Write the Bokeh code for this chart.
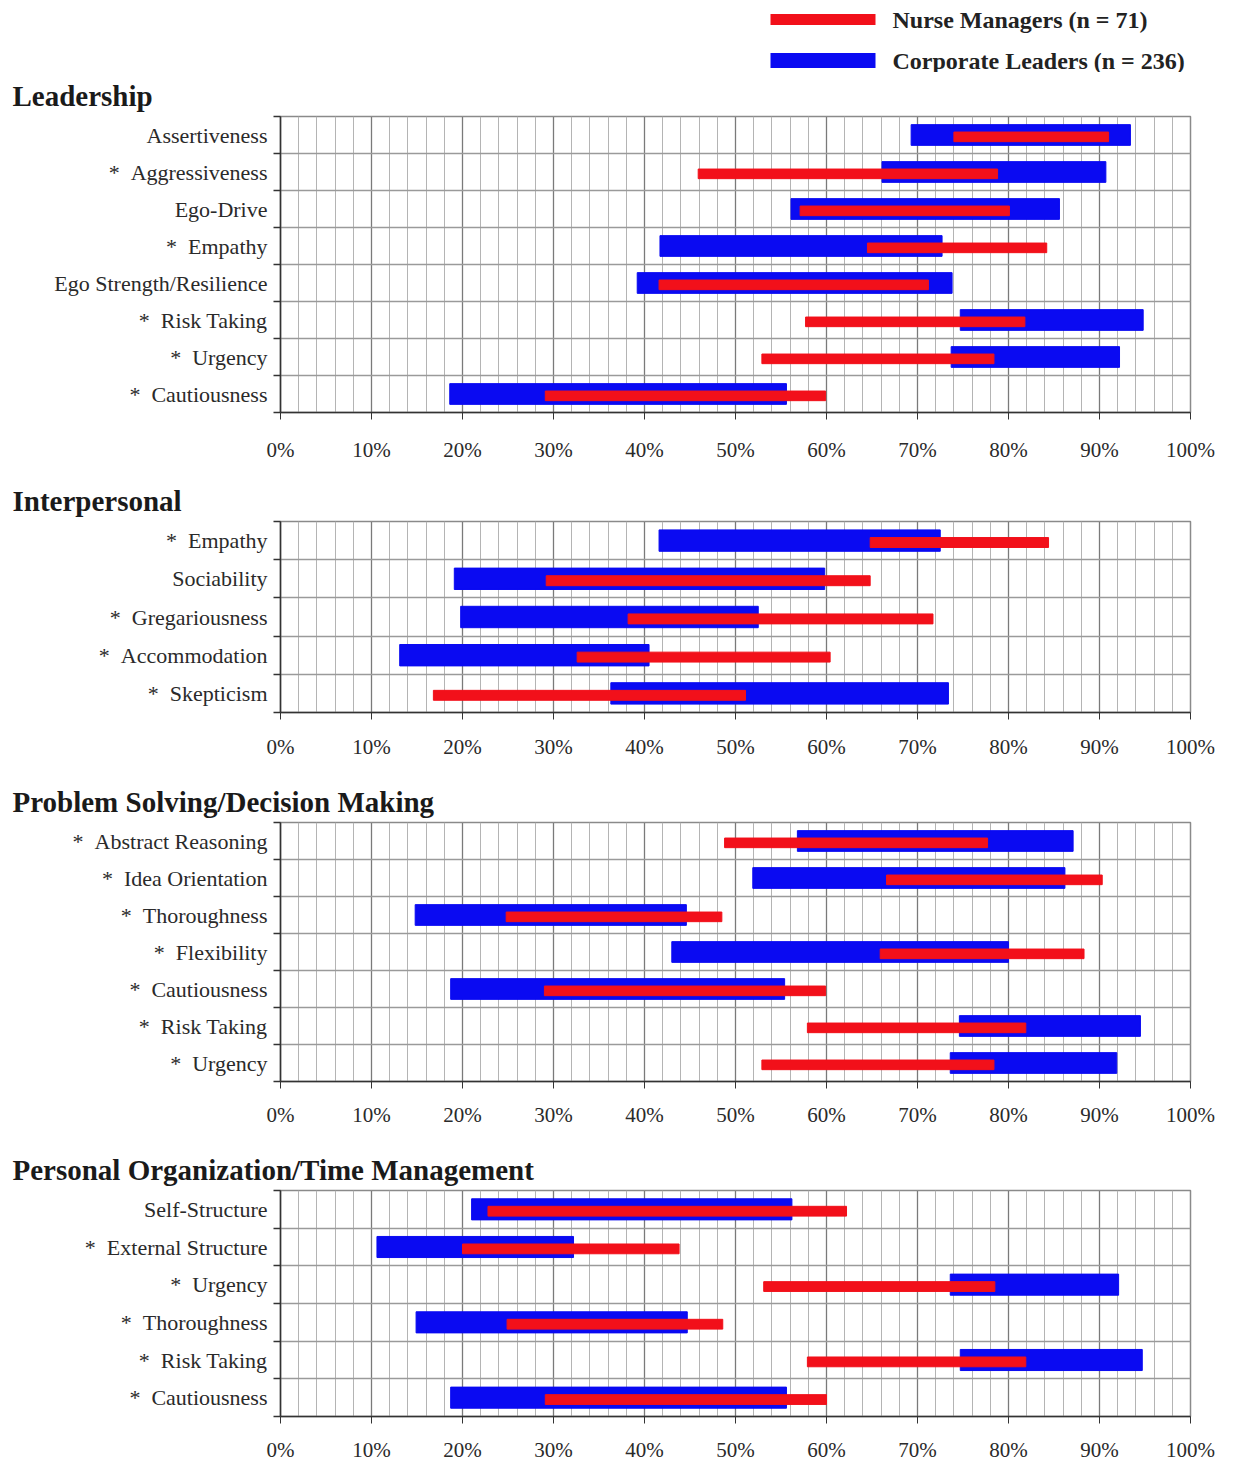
from bokeh.plotting import figure
from bokeh.layouts import column
from bokeh.models import FixedTicker, ColumnDataSource, Range1d
from bokeh.embed import file_html
from bokeh.resources import INLINE
from bokeh.core.properties import value

# ---------------- data ----------------
series_names = ["Nurse Managers (n = 71)", "Corporate Leaders (n = 236)"]
x_ticks = [0, 10, 20, 30, 40, 50, 60, 70, 80, 90, 100]
x_tick_labels = ["0%", "10%", "20%", "30%", "40%", "50%", "60%", "70%", "80%", "90%", "100%"]

leadership_traits = ["Assertiveness", "Aggressiveness", "Ego-Drive", "Empathy",
                     "Ego Strength/Resilience", "Risk Taking", "Urgency", "Cautiousness"]
leadership_flag = [False, True, False, True, False, True, True, True]
leadership_corp_lo = [69.3, 66.1, 56.1, 41.7, 39.2, 74.7, 73.7, 18.6]
leadership_corp_hi = [93.4, 90.7, 85.6, 72.7, 73.8, 94.8, 92.2, 55.6]
leadership_nurse_lo = [74.0, 45.9, 57.1, 64.5, 41.6, 57.7, 52.9, 29.1]
leadership_nurse_hi = [91.0, 78.8, 80.1, 84.2, 71.2, 81.8, 78.4, 59.9]

interpersonal_traits = ["Empathy", "Sociability", "Gregariousness", "Accommodation", "Skepticism"]
interpersonal_flag = [True, False, True, True, True]
interpersonal_corp_lo = [41.6, 19.1, 19.8, 13.1, 36.3]
interpersonal_corp_hi = [72.5, 59.8, 52.5, 40.5, 73.4]
interpersonal_nurse_lo = [64.8, 29.2, 38.2, 32.6, 16.8]
interpersonal_nurse_hi = [84.4, 64.8, 71.7, 60.4, 51.1]

problem_traits = ["Abstract Reasoning", "Idea Orientation", "Thoroughness", "Flexibility",
                  "Cautiousness", "Risk Taking", "Urgency"]
problem_flag = [True, True, True, True, True, True, True]
problem_corp_lo = [56.8, 51.9, 14.8, 43.0, 18.7, 74.6, 73.6]
problem_corp_hi = [87.1, 86.2, 44.6, 80.0, 55.4, 94.5, 91.9]
problem_nurse_lo = [48.8, 66.6, 24.8, 65.9, 29.0, 57.9, 52.9]
problem_nurse_hi = [77.7, 90.3, 48.5, 88.3, 59.9, 81.9, 78.4]

personal_traits = ["Self-Structure", "External Structure", "Urgency", "Thoroughness",
                   "Risk Taking", "Cautiousness"]
personal_flag = [False, True, True, True, True, True]
personal_corp_lo = [21.0, 10.6, 73.6, 14.9, 74.7, 18.7]
personal_corp_hi = [56.2, 32.2, 92.1, 44.7, 94.7, 55.6]
personal_nurse_lo = [22.8, 20.0, 53.1, 24.9, 57.9, 29.1]
personal_nurse_hi = [62.2, 43.8, 78.5, 48.6, 81.9, 60.0]

panel_titles = ["Leadership", "Interpersonal", "Problem Solving/Decision Making",
                "Personal Organization/Time Management"]

# ---------------- style ----------------
SERIF = "Liberation Serif"
BLUE = "#0a0af2"
RED = "#f2101a"
TEXT = "#2a2a2a"
LEFT = 280
FRAME_W = 910
RIGHT = 35
TOP = 44


def make_panel(title, traits, flags, c_lo, c_hi, n_lo, n_hi, frame_h, b_bot, x_standoff):
    n = len(traits)
    centers = [n - i - 0.5 for i in range(n)]
    labels = [("*\u2002" if f else "") + t for t, f in zip(traits, flags)]
    p = figure(frame_width=FRAME_W, frame_height=frame_h,
               x_range=Range1d(0, 100), y_range=Range1d(0, n),
               output_backend="svg", toolbar_location=None,
               min_border_left=LEFT, min_border_right=RIGHT,
               min_border_top=TOP, min_border_bottom=b_bot,
               title=title)
    p.title.text_font = SERIF
    p.title.text_font_size = "29px"
    p.title.text_font_style = "bold"
    p.title.text_color = "#1a1a1a"
    p.title.align = "left"
    p.title.offset = -(LEFT - 12)
    p.title.standoff = 10

    p.background_fill_color = "white"
    p.border_fill_color = "white"
    p.outline_line_color = "#8a8a8a"
    p.outline_line_width = 1.5

    # x grid: majors every 10%, minors every 2%
    p.xgrid.ticker = FixedTicker(ticks=x_ticks, minor_ticks=list(range(0, 101, 2)))
    p.xgrid.grid_line_color = "#7a7a7a"
    p.xgrid.grid_line_width = 1.3
    p.xgrid.minor_grid_line_color = "#b4b4b4"
    p.xgrid.minor_grid_line_width = 1
    # y grid at category boundaries
    p.ygrid.ticker = FixedTicker(ticks=list(range(1, n)))
    p.ygrid.grid_line_color = "#9a9a9a"
    p.ygrid.grid_line_width = 1.5

    xa = p.xaxis[0]
    xa.ticker = FixedTicker(ticks=x_ticks)
    xa.major_label_overrides = {t: l for t, l in zip(x_ticks, x_tick_labels)}
    xa.major_tick_out = 7
    xa.major_tick_in = 0
    xa.minor_tick_out = 0
    xa.minor_tick_in = 0
    xa.axis_line_color = "#333333"
    xa.axis_line_width = 1.5
    xa.major_tick_line_color = "#333333"
    xa.major_label_text_font = SERIF
    xa.major_label_text_font_size = "21px"
    xa.major_label_text_color = TEXT
    xa.major_label_standoff = x_standoff

    ya = p.yaxis[0]
    ya.ticker = FixedTicker(ticks=centers, minor_ticks=list(range(0, n + 1)))
    ya.major_label_overrides = {c: l for c, l in zip(centers, labels)}
    ya.major_tick_out = 0
    ya.major_tick_in = 0
    ya.minor_tick_out = 7
    ya.minor_tick_in = 0
    ya.minor_tick_line_color = "#333333"
    ya.minor_tick_line_width = 1.3
    ya.axis_line_color = "#333333"
    ya.axis_line_width = 1.5
    ya.major_label_text_font = SERIF
    ya.major_label_text_font_size = "22px"
    ya.major_label_text_color = TEXT
    ya.major_label_standoff = 6

    corp = ColumnDataSource(dict(y=centers, left=c_lo, right=c_hi))
    nurse = ColumnDataSource(dict(y=[c - 0.05 for c in centers], left=n_lo, right=n_hi))
    p.hbar(y="y", left="left", right="right", height=0.56, source=corp,
           fill_color=BLUE, line_color=BLUE)
    p.hbar(y="y", left="left", right="right", height=0.26, source=nurse,
           fill_color=RED, line_color=RED)
    return p


# ---------------- legend (a frame aligned with the panels, in page pixels) ----------------
LEG_H = 72
leg = figure(frame_width=FRAME_W, frame_height=LEG_H,
             x_range=Range1d(LEFT, LEFT + FRAME_W), y_range=Range1d(LEG_H, 0),
             output_backend="svg", toolbar_location=None,
             min_border_left=LEFT, min_border_right=RIGHT,
             min_border_top=0, min_border_bottom=0)
leg.axis.visible = False
leg.grid.visible = False
leg.outline_line_color = None
leg.background_fill_color = "white"
leg.border_fill_color = "white"
leg.segment(x0=[770], y0=[19], x1=[875], y1=[19], line_color=RED, line_width=11)
leg.segment(x0=[770], y0=[60], x1=[875], y1=[60], line_color=BLUE, line_width=15)
leg.text(x=[892, 892], y=[19, 60], text=series_names,
         text_font=value(SERIF), text_font_size="24px", text_font_style="bold",
         text_color="#222222", text_baseline="middle", text_align="left")

p1 = make_panel(panel_titles[0], leadership_traits, leadership_flag, leadership_corp_lo,
                leadership_corp_hi, leadership_nurse_lo, leadership_nurse_hi, 296, 65, 18)
p2 = make_panel(panel_titles[1], interpersonal_traits, interpersonal_flag, interpersonal_corp_lo,
                interpersonal_corp_hi, interpersonal_nurse_lo, interpersonal_nurse_hi, 191, 66, 15)
p3 = make_panel(panel_titles[2], problem_traits, problem_flag, problem_corp_lo,
                problem_corp_hi, problem_nurse_lo, problem_nurse_hi, 259, 65, 14)
p4 = make_panel(panel_titles[3], personal_traits, personal_flag, personal_corp_lo,
                personal_corp_hi, personal_nurse_lo, personal_nurse_hi, 226, 44, 14)

layout = column(leg, p1, p2, p3, p4, spacing=0)

with open("out.html", "w") as f:
    f.write(file_html(layout, INLINE))
